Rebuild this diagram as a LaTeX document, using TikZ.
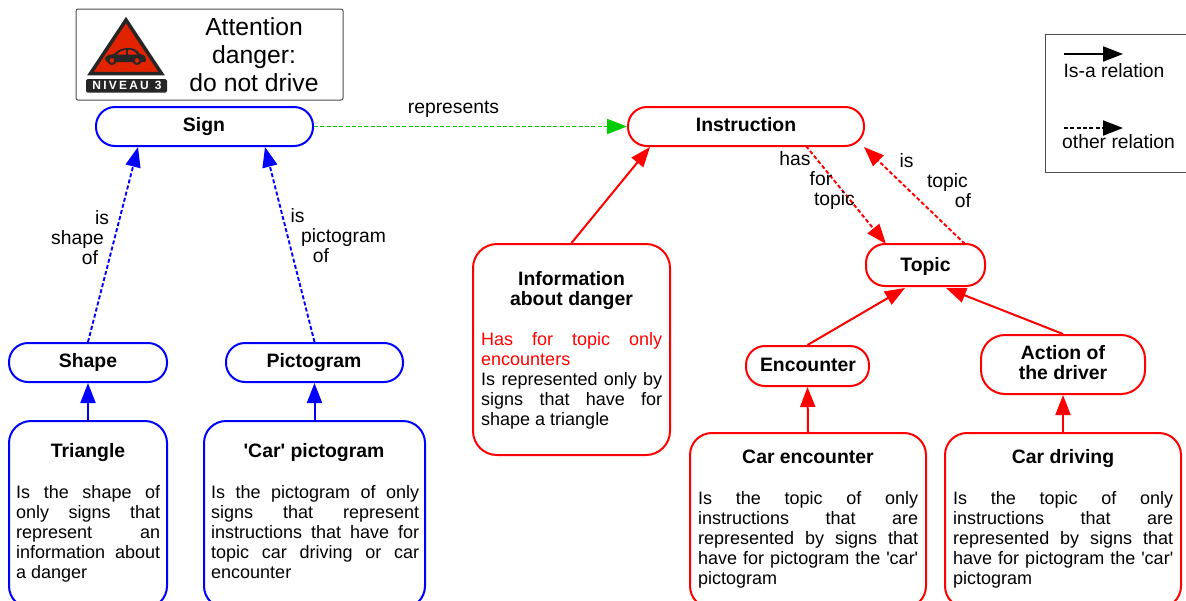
\documentclass[tikz,border=0pt]{standalone}
\usepackage{fontspec}
\setmainfont{Liberation Sans}[Ligatures=TeXOff]
\usepackage{xcolor}
\usetikzlibrary{arrows.meta}
\definecolor{signred}{RGB}{226,35,0}
\definecolor{dashgreen}{RGB}{0,204,0}
\definecolor{darkbadge}{RGB}{38,38,38}
\tolerance=9999
\hyphenpenalty=10000

\begin{document}
\begin{tikzpicture}[x=1pt,y=-1pt,
    concept/.style={draw, line width=2pt, fill=white, rounded corners=19pt, inner sep=0pt},
    bluebox/.style={concept, draw=blue},
    redbox/.style={concept, draw=red},
    title/.style={font=\fontsize{19.4}{20}\selectfont\bfseries, align=center, inner sep=0pt},
    body/.style={font=\fontsize{18}{20}\selectfont, align=justify, anchor=north west, inner sep=0pt},
    wordlabel/.style={font=\fontsize{19.3}{20}\selectfont, inner sep=0pt},
    isa/.style={-{Triangle[length=20pt,width=15pt]}, line width=2pt},
    other/.style={-{Triangle[length=20pt,width=15pt]}, line width=1.9pt, dash pattern=on 4pt off 2.3pt},
]
    \useasboundingbox (0,0) rectangle (1186,600);
    \clip (0,0) rectangle (1186,600);

    % Warning panel
    \node[draw=black!70, line width=1pt, rounded corners=2pt, minimum width=267pt, minimum height=91pt, inner sep=0pt] (panel) at (209.5,54.5) {};
    \fill[darkbadge, rounded corners=1.5pt] (86,79) rectangle (167,92.5);
    \filldraw[fill=signred, draw=darkbadge, line width=3.5pt, line join=miter] (126,20) -- (90.5,73.5) -- (161.5,73.5) -- cycle;
    \fill[darkbadge] (105,59) .. controls (105,55) and (110,55) .. (114,54) .. controls (119,49) and (123,48) .. (129,48) .. controls (134,48) and (137,50) .. (140,54) .. controls (145,55) and (146,57) .. (146,60) -- (145,62) -- (107,62) -- cycle;
    \fill[signred] (117,54.5) .. controls (120,51) and (123,50) .. (126,49.8) -- (126,54.5) -- cycle;
    \fill[signred] (128,49.8) .. controls (132,49.8) and (135,51) .. (137,54.5) -- (128,54.5) -- cycle;
    \filldraw[fill=signred, draw=darkbadge, line width=2pt] (112,60.5) circle (3.5pt);
    \filldraw[fill=signred, draw=darkbadge, line width=2pt] (137,60.5) circle (3.5pt);
    \node[font=\fontsize{12}{12}\selectfont\bfseries, text=white, inner sep=0pt] (niveau) at (127,85.5) {N\kern2.2pt I\kern2.2pt V\kern2.2pt E\kern2.2pt A\kern2.2pt U\kern6pt 3};
    \node[font=\fontsize{24.7}{28}\selectfont, align=center, inner sep=0pt] (warning) at (254,55) {Attention\\danger:\\do not drive};

    % Left hand concepts
    \node[bluebox, minimum width=217pt, minimum height=39pt] (sign) at (204.5,126.5) {};
    \node[title] (signT) at (204,127) {Sign};
    \node[bluebox, minimum width=158pt, minimum height=39pt] (shape) at (88,362.5) {};
    \node[title] (shapeT) at (88,362.5) {Shape};
    \node[bluebox, minimum width=177pt, minimum height=39pt] (pictogram) at (314.5,362.5) {};
    \node[title] (pictogramT) at (314,362.5) {Pictogram};
    \node[bluebox, minimum width=158pt, minimum height=187pt, rounded corners=22pt] (triangle) at (88,514.5) {};
    \node[title] (triangleT) at (88,453) {Triangle};
    \node[body, text width=144pt] (triangleB) at (16,485.5) {Is the shape of\linebreak only signs that\linebreak represent an\linebreak information about\linebreak a danger};
    \node[bluebox, minimum width=221pt, minimum height=187pt, rounded corners=22pt] (carpicto) at (314.5,514.5) {};
    \node[title] (carpictoT) at (314,453) {'Car' pictogram};
    \node[body, text width=208pt] (carpictoB) at (211,485.5) {Is the pictogram of only\linebreak signs that represent\linebreak instructions that have for\linebreak topic car driving or car\linebreak encounter};

    % Right hand concepts
    \node[redbox, minimum width=236pt, minimum height=39pt] (instruction) at (746,126.5) {};
    \node[title] (instructionT) at (746,124.5) {Instruction};
    \node[redbox, minimum width=197pt, minimum height=211pt, rounded corners=24pt] (danger) at (571.5,349.5) {};
    \node[title] (dangerT) at (571.5,290.5) {Information\\about danger};
    \node[body, text width=181pt] (dangerB) at (481,332.5) {\textcolor{red}{Has for topic only\linebreak encounters}\par Is represented only by\linebreak signs that have for\linebreak shape a triangle};
    \node[redbox, minimum width=119pt, minimum height=42pt] (topic) at (925.5,265) {};
    \node[title] (topicT) at (925.5,266) {Topic};
    \node[redbox, minimum width=123pt, minimum height=40pt] (encounter) at (807.5,366) {};
    \node[title] (encounterT) at (808,364.5) {Encounter};
    \node[redbox, minimum width=164pt, minimum height=59pt, rounded corners=24pt] (action) at (1063,364.5) {};
    \node[title] (actionT) at (1063,362.5) {Action of\\the driver};
    \node[redbox, minimum width=236pt, minimum height=175pt, rounded corners=22pt] (carenc) at (808,520.5) {};
    \node[title] (carencT) at (808,457) {Car encounter};
    \node[body, text width=220pt] (carencB) at (698,491.5) {Is the topic of only\linebreak instructions that are\linebreak represented by signs that\linebreak have for pictogram the 'car'\linebreak pictogram};
    \node[redbox, minimum width=236pt, minimum height=175pt, rounded corners=22pt] (cardrive) at (1063,520.5) {};
    \node[title] (cardriveT) at (1063,459) {Car driving};
    \node[body, text width=220pt] (cardriveB) at (953,491.5) {Is the topic of only\linebreak instructions that are\linebreak represented by signs that\linebreak have for pictogram the 'car'\linebreak pictogram};

    % Connector ends away from the anchors
    \coordinate (signA) at (138,147);
    \coordinate (signB) at (265,147);
    \coordinate (instrA) at (650,147);
    \coordinate (instrB) at (806,146);
    \coordinate (instrC) at (864,147);
    \coordinate (topicA) at (886,244);
    \coordinate (topicB) at (965,244);
    \coordinate (topicC) at (905,288);
    \coordinate (topicD) at (946,288);

    % Relations
    \draw[other, blue] (shape.north) -- (signA);
    \draw[other, blue] (pictogram.north) -- (signB);
    \draw[isa, blue] (triangle.north) -- (shape.south);
    \draw[isa, blue] (carpicto.north) -- (pictogram.south);
    \draw[other, dashgreen] (sign.east) -- (instruction.west);
    \draw[isa, red] (danger.north) -- (instrA);
    \draw[other, red] (instrB) -- (topicA);
    \draw[other, red] (topicB) -- (instrC);
    \draw[isa, red] (encounter.north) -- (topicC);
    \draw[isa, red] (action.north) -- (topicD);
    \draw[isa, red] (carenc.north) -- (encounter.south);
    \draw[isa, red] (cardrive.north) -- (action.south);

    % Relation labels
    \node[wordlabel] (represents) at (453.5,109) {represents};
    \node[wordlabel] (isA) at (102,218) {is};
    \node[wordlabel] (shapeL) at (77.5,240) {shape};
    \node[wordlabel] (ofA) at (90,258) {of};
    \node[wordlabel] (isB) at (297.5,216) {is};
    \node[wordlabel] (pictoL) at (343.5,238) {pictogram};
    \node[wordlabel] (ofB) at (321,256) {of};
    \node[wordlabel] (has) at (795,159) {has};
    \node[wordlabel] (forL) at (821,179) {for};
    \node[wordlabel] (topicL) at (834.5,201) {topic};
    \node[wordlabel] (isC) at (906.5,161) {is};
    \node[wordlabel] (topicM) at (947.5,183) {topic};
    \node[wordlabel] (ofC) at (963,201) {of};

    % Legend
    \node[draw=black!70, line width=1pt, fill=white, minimum width=160pt, minimum height=138pt, inner sep=0pt] (legend) at (1125,103) {};
    \coordinate (isaS) at (1064,54);
    \coordinate (isaE) at (1123,54);
    \coordinate (otherS) at (1064,128);
    \coordinate (otherE) at (1123,128);
    \draw[isa, black] (isaS) -- (isaE);
    \draw[other, black] (otherS) -- (otherE);
    \node[wordlabel] (isaL) at (1114,71) {Is-a relation};
    \node[wordlabel] (otherL) at (1118.5,142) {other relation};
\end{tikzpicture}
\end{document}
